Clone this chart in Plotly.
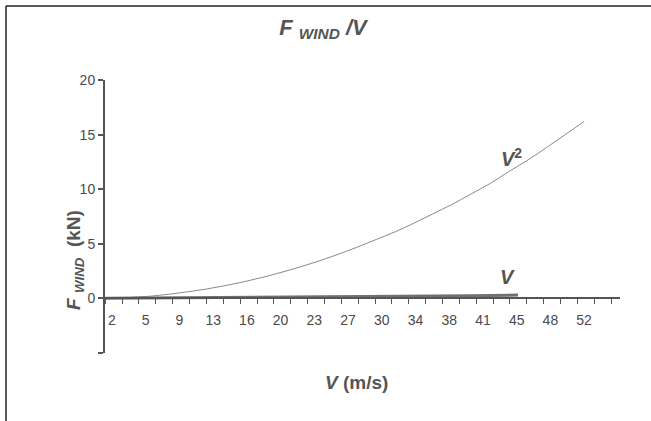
import plotly.graph_objects as go

# ---- data ----
v_sq_speed = [4, 6, 8, 10, 12, 14, 16, 18, 20, 22, 24, 26, 28, 30, 32, 34, 36, 38,
              40, 42, 44, 46, 48, 50, 52]
v_sq_force = [0.1, 0.2, 0.38, 0.6, 0.86, 1.17, 1.53, 1.94, 2.4, 2.9, 3.45, 4.05,
              4.7, 5.4, 6.1, 6.9, 7.75, 8.6, 9.55, 10.5, 11.6, 12.65, 13.8, 15.0, 16.2]
v_lin_speed = [1.3, 10, 20, 30, 40, 45]
v_lin_force = [0.02, 0.06, 0.12, 0.18, 0.25, 0.3]
x_tick_labels = ["2", "5", "9", "13", "16", "20", "23", "27", "30", "34", "38", "41",
                 "45", "48", "52"]
y_tick_values = [-5, 0, 5, 10, 15, 20]
y_tick_labels = ["", "0", "5", "10", "15", "20"]

# evenly spaced positions for the (rounded) category labels
x_first, x_last = 2.0, 52.0
n = len(x_tick_labels)
step = (x_last - x_first) / (n - 1)
x_tick_pos = [x_first + i * step for i in range(n)]
minor_step = step / 2
minor_ticks = [x_first + minor_step * (k + 0.6) for k in range(-1, 2 * n + 2)]

AX = "#555555"
FONT = "Liberation Sans, Arial, sans-serif"

fig = go.Figure()
fig.add_trace(go.Scatter(x=v_sq_speed, y=v_sq_force, mode="lines",
                         line=dict(color="#8a8a8a", width=1, shape="spline"),
                         showlegend=False, hoverinfo="skip"))
fig.add_trace(go.Scatter(x=v_lin_speed, y=v_lin_force, mode="lines",
                         line=dict(color="#707070", width=3),
                         showlegend=False, hoverinfo="skip"))

fig.add_annotation(x=44.3, y=12.9, text="<b><i>V</i><sup>2</sup></b>", showarrow=False,
                   font=dict(family=FONT, size=20, color="#555555"))
fig.add_annotation(x=43.9, y=2.0, text="<b><i>V</i></b>", showarrow=False,
                   font=dict(family=FONT, size=20, color="#555555"))

# page frame (top and left edges as in the scan)
fx = (6 - 105) / 515
fy = (353 - 6) / 273
fig.add_shape(type="line", xref="paper", yref="paper", x0=fx, x1=2.0, y0=fy, y1=fy,
              line=dict(color="#222222", width=1.5))
fig.add_shape(type="line", xref="paper", yref="paper", x0=fx, x1=fx, y0=-2.0, y1=fy,
              line=dict(color="#222222", width=1.5))

fig.update_layout(
    width=651, height=421,
    margin=dict(l=105, r=31, t=80, b=68),
    paper_bgcolor="white", plot_bgcolor="white",
    font=dict(family=FONT, color="#444444", size=14),
    title=dict(text="<b><i>F <sub>WIND</sub> /V</i></b>", x=323 / 651, xref="container",
               xanchor="center", y=1 - 27 / 421, yref="container", yanchor="middle",
               font=dict(family=FONT, size=22, color="#555555")),
    xaxis=dict(
        range=[1.26, 55.8], anchor="free", position=0.2,
        showgrid=False, zeroline=False,
        showline=True, linecolor=AX, linewidth=1.5,
        tickmode="array", tickvals=x_tick_pos, ticktext=x_tick_labels,
        ticks="outside", ticklen=0, tickcolor=AX, ticklabelstandoff=9,
        tickfont=dict(family=FONT, size=14, color="#4a4a4a"),
        minor=dict(tickmode="array", tickvals=minor_ticks, ticks="outside",
                   ticklen=5, tickcolor=AX, tickwidth=1, showgrid=False),
    ),
    yaxis=dict(
        range=[-5, 20], showgrid=False, zeroline=False,
        showline=True, linecolor=AX, linewidth=2,
        tickmode="array", tickvals=y_tick_values, ticktext=y_tick_labels,
        ticks="outside", ticklen=5, tickcolor=AX, tickwidth=1.5,
        tickfont=dict(family=FONT, size=14, color="#4a4a4a"),
    ),
)

# axis titles placed as in the reference
fig.add_annotation(x=(356 - 105) / 515, y=(353 - 382) / 273, xref="paper", yref="paper",
                   xanchor="center", yanchor="middle",
                   text="<b><i>V</i> (m/s)</b>", showarrow=False,
                   font=dict(family=FONT, size=19, color="#555555"))
fig.add_annotation(x=(75 - 105) / 515, y=(353 - 260) / 273, xref="paper", yref="paper",
                   xanchor="center", yanchor="middle",
                   text="<b><i>F </i><sub><i>WIND</i></sub>  (kN)</b>", showarrow=False,
                   textangle=-90,
                   font=dict(family=FONT, size=19, color="#555555"))

fig.write_html("out.html",
               config={"displayModeBar": False},
               post_script="document.body.style.margin='0';"
                           "document.body.style.overflow='hidden';")
